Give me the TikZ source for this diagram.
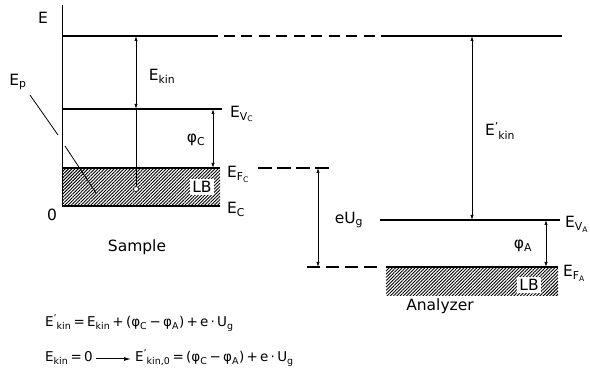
\documentclass[tikz,border=0pt]{standalone}
\usepackage{fontspec}
\setmainfont{DejaVu Sans}
\usetikzlibrary{arrows.meta,patterns.meta}
\newcommand\sbs[1]{\textsubscript{#1}}
\newcommand\prm{\textsuperscript{’}\kern-0.5pt}
\begin{document}
\begin{tikzpicture}[x=1pt,y=-1pt,
  level/.style={line width=1.5pt},
  dimarrow/.style={line width=0.7pt,{Latex[length=5pt,width=3.2pt]}-{Latex[length=5pt,width=3.2pt]}},
  thin/.style={line width=0.8pt},
  lbl/.style={font=\fontsize{15.5}{18}\selectfont,inner sep=0pt},
  frm/.style={font=\fontsize{13.5}{15}\selectfont,inner sep=0pt,anchor=west},
  hatch/.style={pattern={Lines[angle=45,distance=2.3pt,line width=0.9pt]}}]
\useasboundingbox (0,0) rectangle (590,387);
% coordinates
\coordinate (axtop) at (62,5);
\coordinate (t1) at (62,36);   \coordinate (t2) at (218,36);
\coordinate (t3) at (382,36);  \coordinate (t4) at (562,36);
\coordinate (v1) at (62,109);  \coordinate (v2) at (222,109);
\coordinate (f1) at (62,168);  \coordinate (f2) at (220,168);
\coordinate (fd1) at (258,168); \coordinate (fd2) at (333,168);
\coordinate (c1) at (62,206);  \coordinate (c2) at (220,206);
\coordinate (va1) at (380,220); \coordinate (va2) at (560,220);
\coordinate (fa1) at (386,267); \coordinate (fa2) at (558,267);
\coordinate (ad1) at (307,267); \coordinate (ad2) at (382,267);
% hatched bands
\fill[hatch] (f1) rectangle (c2);
\fill[hatch] (fa1) rectangle (558,296);
% levels
\draw[thin] (axtop) -- (c1);
\draw[level] (t1) -- (t2);
\draw[level,dash pattern=on 11pt off 6.5pt,dash phase=12pt] (t2) -- (t3);
\draw[level] (t3) -- (t4);
\draw[level] (v1) -- (v2);
\draw[level] (f1) -- (f2);
\draw[level,dash pattern=on 14pt off 5pt] (fd1) -- (fd2);
\draw[line width=2pt] (c1) -- (c2);
\draw[level] (va1) -- (va2);
\draw[level] (fa1) -- (fa2);
\draw[level,dash pattern=on 13pt off 6pt] (ad1) -- (ad2);
% LB boxes
\node[lbl,fill=white,inner sep=2pt] (lb1) at (202,187) {LB};
\node[lbl,fill=white,inner sep=2pt] (lb2) at (529,285) {LB};
% electron
\coordinate (ek1) at (136,36); \coordinate (ek2) at (136,109);
\node[circle,draw,fill=white,line width=0.6pt,inner sep=0pt,minimum size=5pt] (el) at (136,189) {};
\draw[dimarrow] (ek1) -- (ek2);
\draw[thin] (ek2) -- (el);
% other arrows
\coordinate (pc1) at (213,109); \coordinate (pc2) at (213,168);
\draw[dimarrow] (pc1) -- (pc2);
\coordinate (ug1) at (318,168); \coordinate (ug2) at (318,267);
\draw[dimarrow] (ug1) -- (ug2);
\coordinate (pa1) at (546,220); \coordinate (pa2) at (546,267);
\draw[dimarrow] (pa1) -- (pa2);
\coordinate (ekp1) at (472,36); \coordinate (ekp2) at (472,220);
\draw[dimarrow] (ekp1) -- (ekp2);
% labels
\node[lbl] (E) at (43,18) {E};
\node[lbl] (zero) at (52,215) {0};
\node[lbl] (Ep) at (18,82) {E\sbs{p}};
\coordinate (g1) at (58,135); \coordinate (g2) at (65,146);
\coordinate (pe) at (96,193);
\draw[thin] (30,95) -- (g1);
\draw[thin] (g2) -- (pe);
\node[lbl] (Ekin) at (162,76) {E\sbs{kin}};
\node[lbl,anchor=west] (EVc) at (230,114) {E\sbs{V\sbs{C}}};
\node[lbl] (phiC) at (196,140) {φ\sbs{C}};
\node[lbl,anchor=west] (EFc) at (227,174) {E\sbs{F\sbs{C}}};
\node[lbl,anchor=west] (EC) at (227,209) {E\sbs{C}};
\node[lbl] (sample) at (137,247) {Sample};
\node[lbl] (eUg) at (349,220) {eU\sbs{g}};
\node[lbl,anchor=west] (EVA) at (565,224) {E\sbs{V\sbs{A}}};
\node[lbl] (phiA) at (523,246) {φ\sbs{A}};
\node[lbl,anchor=west] (EFA) at (563,273) {E\sbs{F\sbs{A}}};
\node[lbl] (anal) at (440,306) {Analyzer};
\node[lbl] (Ekinp) at (500,131) {E\prm\sbs{kin}};
% formulas
\node[frm] (fa) at (45,323) {E\prm\sbs{kin}\,=\,E\sbs{kin}\,+\,(φ\sbs{C}\,−\,φ\sbs{A})\,+\,e\,·\,U\sbs{g}};
\node[frm] (fb1) at (45,358) {E\sbs{kin}\,=\,0};
\node[frm] (fb2) at (135,358) {E\prm\sbs{kin,0}\,=\,(φ\sbs{C}\,−\,φ\sbs{A})\,+\,e\,·\,U\sbs{g}};
\draw[line width=1pt,-{Latex[length=7pt,width=4pt]}] ([xshift=3pt,yshift=-1pt]fb1.east) -- ([xshift=-4pt,yshift=-1pt]fb2.west);
\end{tikzpicture}
\end{document}
